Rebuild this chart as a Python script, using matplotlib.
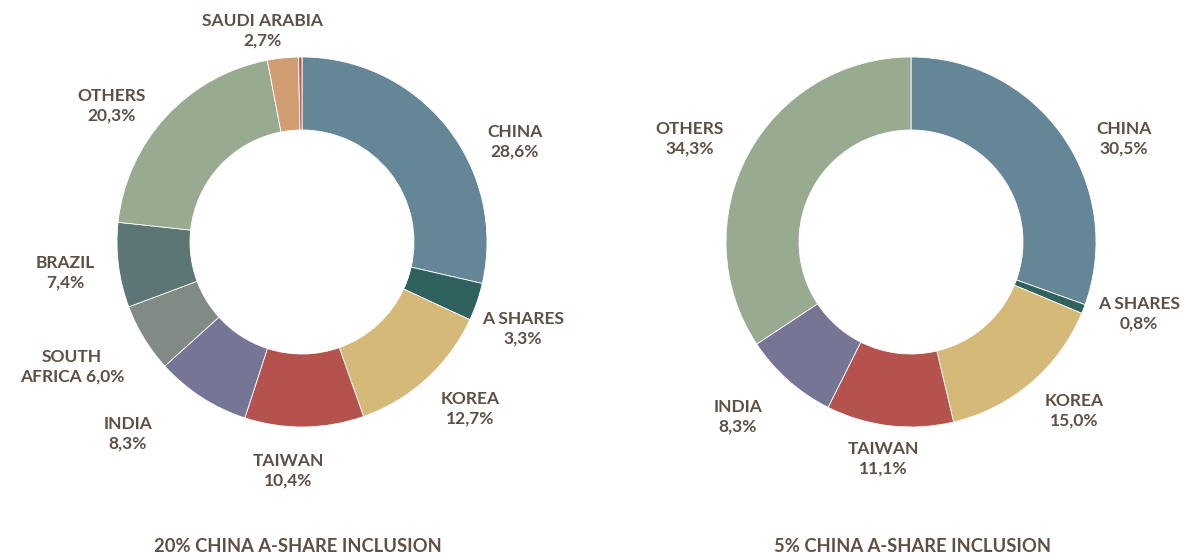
import matplotlib.pyplot as plt

# data
left_names = ["CHINA", "A SHARES", "KOREA", "TAIWAN", "INDIA", "SOUTH\nAFRICA", "BRAZIL", "OTHERS", "SAUDI ARABIA", ""]
left_values = [28.6, 3.3, 12.7, 10.4, 8.3, 6.0, 7.4, 20.3, 2.7, 0.3]
right_names = ["CHINA", "A SHARES", "KOREA", "TAIWAN", "INDIA", "OTHERS"]
right_values = [30.5, 0.8, 15.0, 11.1, 8.3, 34.3]
titles = ["20% CHINA A-SHARE INCLUSION", "5% CHINA A-SHARE INCLUSION"]

colors = {"CHINA": "#648697", "A SHARES": "#2f625f", "KOREA": "#d4b978", "TAIWAN": "#b4524e",
          "INDIA": "#777596", "SOUTH\nAFRICA": "#818a85", "BRAZIL": "#5b7674", "OTHERS": "#98aa8f",
          "SAUDI ARABIA": "#d19e74", "": "#bf5f58"}
txt_color = "#5e5045"

# label layout (pixel coords of text centres)
left_pos = {"CHINA": (515, 142), "A SHARES": (523, 329), "KOREA": (470, 409), "TAIWAN": (288, 471),
            "INDIA": (128, 434), "SOUTH\nAFRICA": (72, 367), "BRAZIL": (65, 273), "OTHERS": (112, 106),
            "SAUDI ARABIA": (262, 31)}
right_pos = {"CHINA": (1124, 139), "A SHARES": (1139, 314), "KOREA": (1074, 411), "TAIWAN": (883, 459),
             "INDIA": (738, 417), "OTHERS": (690, 139)}

def fmt(v):
    return ("%.1f" % v).replace(".", ",") + "%"

fig = plt.figure(figsize=(11.85, 5.59), dpi=100)
ax = fig.add_axes([0, 0, 1, 1])

R = 185
W = 73

def donut(names, values, cx, cy, pos):
    # y axis is inverted (pixel coords), so start at -90 and go counterclockwise in data
    # to appear clockwise from 12 o'clock on screen
    ax.pie(values, colors=[colors[n] for n in names], startangle=-90, counterclock=True,
           center=(cx, cy), radius=R, frame=True,
           wedgeprops=dict(width=W, edgecolor="white", linewidth=0.6))
    for n, v in zip(names, values):
        if n not in pos:
            continue
        if n == "SOUTH\nAFRICA":
            label = "SOUTH\nAFRICA " + fmt(v)
        else:
            label = n + "\n" + fmt(v)
        ax.text(pos[n][0], pos[n][1], label, ha="center", va="center", fontsize=12.5,
                fontweight="bold", family="Lato", color=txt_color, linespacing=1.25)

donut(left_names, left_values, 302, 242, left_pos)
donut(right_names, right_values, 911, 242, right_pos)

ax.set_xlim(0, 1185)
ax.set_ylim(559, 0)
ax.set_aspect("equal")
ax.axis("off")

ax.text(298, 546, titles[0], ha="center", va="center", fontsize=13.2, fontweight="bold",
        family="Lato", color=txt_color)
ax.text(913, 546, titles[1], ha="center", va="center", fontsize=13.2, fontweight="bold",
        family="Lato", color=txt_color)

fig.savefig("out.png", dpi=100)
